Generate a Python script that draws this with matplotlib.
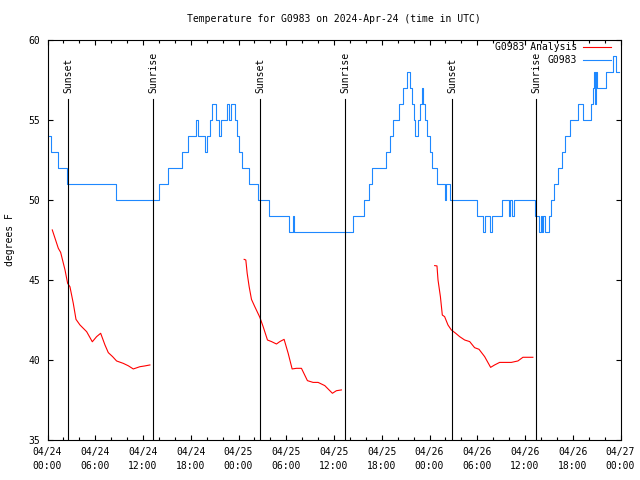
import numpy as np
import pandas as pd
import matplotlib
matplotlib.use("Agg")
from matplotlib import pyplot as plt
import matplotlib.dates as mdates
import matplotlib.transforms as mtransforms

# hours after 2024-04-24 00:00 UTC
start = pd.Timestamp("2024-04-24 00:00")

# observed temps (change points, drawn as steps)
obs_hours = [0.05, 0.4, 1.32, 2.45, 8.6, 13.95, 15.2, 16.9, 17.68, 18.6, 18.94, 19.73, 19.98,
             20.36, 20.69, 21.2, 21.5, 21.78, 22.5, 22.85, 23.12, 23.54, 23.8, 24.08, 24.38,
             25.3, 26.5, 27.8, 30.32, 30.8, 31.03, 38.4, 39.74, 40.4, 40.74, 42.5, 43.0,
             43.38, 44.22, 44.63, 45.14, 45.57, 45.76, 45.99, 46.23, 46.5, 46.77, 47.0,
             47.23, 47.46, 47.7, 48.02, 48.36, 49.0, 49.9, 50.05, 50.55, 54.0, 54.76,
             54.97, 55.56, 55.8, 57.06, 57.98, 58.15, 58.36, 58.57, 61.29, 61.8, 61.95,
             62.15, 62.3, 62.5, 63.05, 63.3, 63.7, 64.2, 64.6, 65.0, 65.6, 66.6, 67.35,
             68.3, 68.5, 68.65, 68.75, 68.95, 69.1, 70.2, 71.1, 71.45, 71.8]
obs_temps = [54, 53, 52, 51, 50, 51, 52, 53, 54, 55, 54, 53, 54,
             55, 56, 55, 54, 55, 56, 55, 56, 55, 54, 53, 52,
             51, 50, 49, 48, 49, 48, 49, 50, 51, 52, 53, 54,
             55, 56, 57, 58, 57, 56, 55, 54, 55, 56, 57,
             56, 55, 54, 53, 52, 51, 50, 51, 50, 49, 48,
             49, 48, 49, 50, 49, 50, 49, 50, 49, 48, 49,
             48, 49, 48, 49, 50, 51, 52, 53, 54, 55, 56, 55,
             56, 57, 58, 56, 58, 57, 58, 59, 58, 58]

# analysis runs
ana1_hours = [0.6, 1.36, 1.65, 2.2, 2.53, 2.82, 3.24, 3.58, 4.08, 4.92, 5.63, 6.17, 6.68,
              7.22, 7.64, 8.18, 8.68, 9.52, 10.15, 10.78, 11.6, 12.24, 12.87]
ana1_temps = [48.13, 46.98, 46.73, 45.63, 44.79, 44.58, 43.54, 42.54, 42.19, 41.77, 41.14,
              41.46, 41.67, 40.94, 40.46, 40.21, 39.94, 39.79, 39.64, 39.44, 39.58, 39.63, 39.69]
ana2_hours = [24.71, 24.92, 25.09, 25.34, 25.63, 26.05, 26.68, 27.1, 27.64, 28.15, 28.77,
              29.19, 29.73, 30.24, 30.74, 31.28, 31.91, 32.66, 33.37, 34.0, 34.84, 35.8,
              36.3, 36.93]
ana2_temps = [46.29, 46.25, 45.42, 44.58, 43.79, 43.33, 42.67, 42.08, 41.25, 41.15, 41.0,
              41.15, 41.29, 40.42, 39.44, 39.48, 39.48, 38.71, 38.6, 38.6, 38.4, 37.92,
              38.08, 38.13]
ana3_hours = [48.65, 48.94, 49.07, 49.37, 49.61, 49.9, 50.32, 50.74, 51.29, 51.79, 52.42,
              53.05, 53.67, 54.22, 54.93, 55.68, 56.18, 56.81, 57.44, 58.28, 59.11, 59.74,
              60.99]
ana3_temps = [45.9, 45.88, 45.0, 43.96, 42.81, 42.71, 42.19, 41.88, 41.67, 41.46, 41.25,
              41.15, 40.77, 40.67, 40.21, 39.54, 39.69, 39.85, 39.85, 39.85, 39.94, 40.17,
              40.17]

sun_hours = [2.62, 13.28, 26.72, 37.38, 50.82, 61.37]
sun_labels = ["Sunset", "Sunrise", "Sunset", "Sunrise", "Sunset", "Sunrise"]

station = "G0983"
title = "Temperature for G0983 on 2024-Apr-24 (time in UTC)"


def to_time(hours):
    return start + pd.to_timedelta(np.asarray(hours), unit="h")


plt.rcParams['font.family'] = 'DejaVu Sans Mono'
plt.rcParams['font.size'] = 7

fig = plt.figure(figsize=(6.4, 4.8), dpi=100)
ax = fig.add_axes([47.5 / 640, 40 / 480, 573 / 640, 400 / 480])

blue = '#1e88ff'
red = '#ff0000'

first = True
for h, t in [(ana1_hours, ana1_temps), (ana2_hours, ana2_temps), (ana3_hours, ana3_temps)]:
    ax.plot(to_time(h), t, color=red, lw=0.8,
            label=station + " Analysis" if first else "_nolegend_")
    first = False
ax.plot(to_time(obs_hours), obs_temps, color=blue, lw=0.8, drawstyle='steps-post', label=station)

trans = mtransforms.blended_transform_factory(ax.transData, ax.transAxes)
for h, lab in zip(sun_hours, sun_labels):
    x = to_time([h])[0]
    ax.axvline(x, ymin=0, ymax=0.853, color='black', lw=0.8)
    ax.text(x, 0.868, lab, transform=trans, rotation=90, ha='center', va='bottom')

ax.set_xlim(start, start + pd.Timedelta(hours=72))
ax.set_ylim(35, 60)
ax.set_yticks([35, 40, 45, 50, 55, 60])
ax.xaxis.set_major_locator(mdates.HourLocator(byhour=[0, 6, 12, 18]))
ax.xaxis.set_minor_locator(mdates.HourLocator(byhour=range(0, 24, 2)))
ax.xaxis.set_major_formatter(mdates.DateFormatter('%m/%d\n%H:%M'))

ax.tick_params(which='both', direction='in', top=True, right=True, width=0.8, color='black')
ax.tick_params(which='major', length=3.5)
ax.tick_params(which='minor', length=2)
ax.tick_params(axis='x', pad=5)
ax.tick_params(axis='y', pad=5)
for spine in ax.spines.values():
    spine.set_linewidth(0.8)
for lbl in ax.get_xticklabels():
    lbl.set_linespacing(1.5)

fig.text(334 / 640, 1 - 19 / 480, title, ha='center', va='center')
fig.text(10 / 640, 0.5, 'degrees F', rotation=90, ha='center', va='center')

ax.legend(loc='upper right', bbox_to_anchor=(611 / 640, 1 - 42 / 480), bbox_transform=fig.transFigure,
          frameon=False, markerfirst=False, handlelength=2.9, handletextpad=0.6,
          labelspacing=0.35, borderpad=0, borderaxespad=0)

fig.savefig('out.png', dpi=100)
